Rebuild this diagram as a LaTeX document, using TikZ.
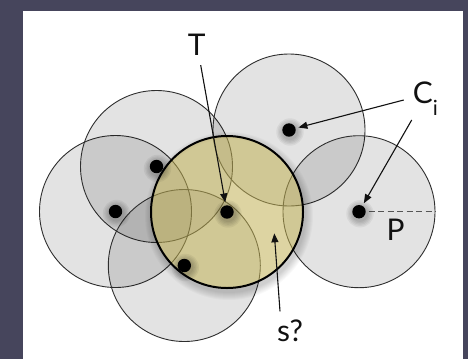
\documentclass[tikz,border=0pt]{standalone}
\usepackage{fontspec}
\setmainfont{Lato}
\usetikzlibrary{arrows.meta,calc}
\definecolor{covbg}{HTML}{46455C}
\definecolor{covpanel}{HTML}{FFFFFF}
\definecolor{covink}{HTML}{111111}
\definecolor{covedge}{HTML}{2E2E2E}
\definecolor{covyellow}{HTML}{C2B256}
\definecolor{covdash}{HTML}{555555}

\begin{document}
\begin{tikzpicture}[
    x=1bp,
    y=-1bp,
    cell/.style={circle, draw=covedge, line width=0.9bp, fill=black, fill opacity=0.11, minimum size=152bp, inner sep=0pt},
    target/.style={circle, draw=black, line width=2bp, fill=covyellow, fill opacity=0.55, minimum size=152bp, inner sep=0pt},
    centre/.style={circle, fill=black, minimum size=13.4bp, inner sep=0pt, outer sep=3bp},
    pointer/.style={-{Triangle[length=9bp,width=7bp]}, line width=1.1bp, draw=covink},
    tag/.style={font=\fontsize{30}{36}\selectfont, text=covink, inner sep=0pt}
  ]
    \fill[covbg] (0,0) rectangle (468,359);
    \fill[covpanel] (23,11) rectangle (463,359);

    % 1. Neighbour cells
    \node[cell] (cell-left) at (115.5,211.5) {};
    \node[cell] (cell-upper) at (156.5,166.5) {};
    \node[cell] (cell-lower) at (184.3,265.5) {};
    \node[cell] (cell-top) at (289,130) {};
    \node[cell] (cell-right) at (359,211.7) {};

    % 2. Target cell with soft shadow
    \foreach \k in {1,...,8} {
      \fill[black, opacity=0.025, even odd rule] (229,216) circle (76+\k) (227,212) circle (76);
    }
    \node[target] (cell-target) at (227,212) {};

    \draw[covdash, line width=1.2bp, dash pattern=on 6bp off 3.5bp] (cell-right.center) -- (cell-right.east);

    % 3. Centres
    \foreach \c in {cell-left,cell-upper,cell-lower,cell-top,cell-right,cell-target} {
      \foreach \k in {1,...,5}
        \fill[black, opacity=0.05] ($(\c.center)+(1,2)$) circle (6.7+\k*1.4);
    }
    \node[centre] (dot-left) at (cell-left.center) {};
    \node[centre] (dot-upper) at (cell-upper.center) {};
    \node[centre] (dot-lower) at (cell-lower.center) {};
    \node[centre] (dot-top) at (cell-top.center) {};
    \node[centre] (dot-right) at (cell-right.center) {};
    \node[centre] (dot-T) at (cell-target.center) {};

    \coordinate (s-spot) at (274.3,233.3);

    % 4. Labels
    \node[tag, anchor=base] (lab-T) at (196.7,55) {T};
    \node[tag, anchor=base west] (lab-C) at (412.7,103.3) {C\raisebox{-12bp}{\fontsize{21}{24}\selectfont i}};
    \node[tag, anchor=base] (lab-P) at (395.5,240) {P};
    \node[tag, anchor=base] (lab-s) at (290,341.7) {s?};

    \draw[pointer] ([xshift=4bp,yshift=-10bp]lab-T.south) -- (dot-T);
    \draw[pointer] ([xshift=-9bp,yshift=3.3bp]lab-C.base west) -- (dot-top);
    \draw[pointer] ([xshift=-1bp,yshift=-16.7bp]lab-C.base west) -- (dot-right);
    \draw[pointer] ([xshift=-10bp,yshift=8.5bp]lab-s.north) -- (s-spot);

  \end{tikzpicture}
\end{document}
